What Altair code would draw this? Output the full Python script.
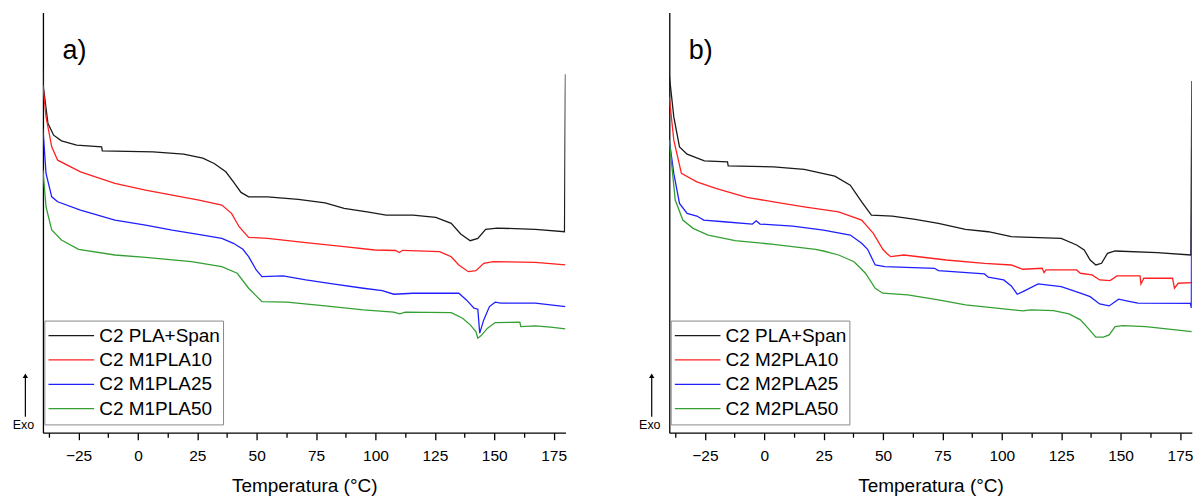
import altair as alt
import pandas as pd

# ---------------- data (y in arbitrary heat-flow units) ----------------
names_a = ["C2 PLA+Span", "C2 M1PLA10", "C2 M1PLA25", "C2 M1PLA50"]
names_b = ["C2 PLA+Span", "C2 M2PLA10", "C2 M2PLA25", "C2 M2PLA50"]
colors = ["#1a1a1a", "#ff2020", "#1f1fff", "#34a034"]

a_black_t = [-40, -39.8, -37.9, -35.5, -32.2, -25.8, -15.3, -15, 6.4, 19.2, 27.3, 32.1, 37, 40.2, 43.4, 46.6,
             54.6, 67.5, 78.8, 86.8, 96.5, 104.5, 115.8, 125.4, 131.9, 135.9, 139.9, 143.1, 146.4, 151.2, 167.3,
             179.6, 180]
a_black_v = [364.7, 346.3, 310, 298, 292.3, 288, 286.3, 282.3, 281.3, 279, 275, 269.7, 261.3, 251.3, 240.7, 236.3,
             236.3, 233.7, 230.3, 224.7, 221.3, 218, 218, 215.7, 209.7, 199, 192.3, 194.7, 203.7, 205, 203.7,
             201.3, 359]

a_red_t = [-40, -38.7, -36.3, -33.8, -24.2, -9.7, 3.2, 14.4, 25.7, 35.3, 39.4, 42.6, 46.6, 54.6, 70.7, 86.8,
           99.7, 108.5, 110, 111.5, 127, 131.9, 135.1, 139.1, 142.3, 145.6, 149.6, 167.3, 180]
a_red_v = [348, 316.3, 286.3, 273, 261.3, 249.7, 243, 238, 233, 228, 219.7, 206.3, 195.7, 194.7, 190.3, 186.3,
           183, 182.5, 180.5, 182.7, 181.3, 176.3, 168, 161.3, 162.3, 169.7, 171.3, 170.7, 168]

a_blue_t = [-40, -38.7, -36.3, -33.8, -24.2, -9.7, 3.2, 14.4, 27.3, 35.3, 40.2, 44.2, 46.6, 49.8, 52.2, 61.1,
            70.7, 82, 94.9, 102.9, 107.7, 115.8, 135.1, 138.3, 141.5, 143.1, 143.9, 145.6, 148, 150.4, 152.8,
            167.3, 180]
a_blue_v = [304.7, 259.7, 236.3, 231.3, 223, 213, 208, 203, 198, 194.7, 189.7, 183.7, 176.3, 163, 156.3, 157,
            153, 149, 144.7, 142.3, 138.7, 139.7, 139.7, 133, 124.7, 123.7, 99.7, 113, 126.3, 130.7, 129.7,
            129.7, 126.3]

a_green_t = [-40, -38.7, -36.3, -32.2, -25, -9.7, 3.2, 22.5, 35.3, 41.8, 46.6, 52.2, 62.7, 78.8, 94.9, 107.7,
             110.2, 112.6, 131.9, 136.7, 139.9, 142.3, 143.1, 144.4, 147.2, 150.4, 160.8, 161.2, 167.3, 173.7, 180]
a_green_v = [263, 226.3, 203, 193, 183.7, 178, 175.7, 171.3, 166.3, 159.7, 144.7, 131.3, 130.7, 127, 123, 120.7,
             119, 120.7, 120.3, 114.7, 108, 101.3, 94.7, 97, 104.7, 110.3, 110.7, 106.3, 107, 105.7, 104]

b_black_t = [-40, -38.1, -35.7, -32.5, -25.2, -15.5, -15.2, 3.9, 16.8, 29.7, 36.2, 41, 45.1, 53.9, 63.6, 73.3,
             84.7, 94.3, 104, 125, 131.5, 134.7, 137.2, 139.6, 142, 144.5, 147.7, 165.4, 179.6, 180]
b_black_v = [358, 316.3, 286.3, 279, 272.3, 271.3, 267.3, 266.3, 263.7, 257, 248, 231.3, 218, 217, 213.7, 209.7,
             203.7, 201.3, 196.3, 194.7, 188, 183, 173, 168, 169.7, 179.7, 182, 180.3, 178, 352.3]

b_red_t = [-40, -38.1, -34.9, -28.4, -20.4, -7.4, 3.9, 16.8, 31.3, 41, 45.9, 49.9, 51.5, 53.2, 58.8, 76.6, 92.7,
           104, 108.9, 117, 117.8, 118.6, 131.5, 133.1, 138, 141.2, 145.6, 148.5, 158.2, 158.6, 159.8, 171.9,
           172.7, 174.3, 180]
b_red_v = [336.3, 293, 259.7, 251.3, 244.7, 235.7, 231.3, 226.3, 221.3, 213, 199.7, 183.7, 179.7, 176.3, 178,
           173, 169.7, 168, 163.7, 164.7, 160.3, 163, 163, 159.7, 158, 153, 152.3, 157, 157, 149, 154.7, 154.7,
           144.7, 149.7, 150.3]

b_blue_t = [-40, -38.1, -35.7, -32.5, -28.4, -25.5, -17.1, -5, -3.4, -1.8, 12, 24.9, 36.2, 41, 43.5, 44.3, 46.7,
            50.7, 71.7, 73.3, 92.7, 94.3, 100.8, 104, 106.5, 108.9, 115.3, 125, 133.1, 137.2, 141.2, 145.2, 149.2,
            154.1, 157.3, 179.4, 179.8, 180]
b_blue_v = [293, 259.7, 229.7, 219.7, 217, 213, 211.3, 209, 212.3, 209, 207, 203, 198, 189.7, 183.7, 179.7, 168,
            166.3, 164.7, 162.3, 159, 155.7, 153, 147, 138.7, 141.3, 149, 146.3, 139.7, 136.3, 129, 127, 133.7,
            131.3, 129.7, 129.5, 125, 284]

b_green_t = [-40, -37.5, -34.3, -30, -23.6, -12.3, 3.9, 21.6, 24.9, 31.3, 37.8, 42.6, 46.7, 49.9, 60.4, 73.3,
             84.7, 100.8, 108.9, 112.1, 121.8, 128.3, 133.1, 136.3, 139.6, 142.8, 145.2, 147.7, 150.9, 160.6, 180]
b_green_v = [293, 233, 213, 204.7, 198, 192.3, 188.7, 183.7, 182, 178, 171.3, 159.7, 144.7, 139.7, 138, 133,
             128, 124, 122, 123, 122.3, 119, 113, 104.7, 95.7, 95.7, 98, 106.3, 107.3, 106.3, 101.3]

tick_values = [-37.5 + 12.5 * i for i in range(18)]

FONT = "Liberation Sans"
W, H = 523.4, 421


def frame(names, ts_list, vs_list):
    rows = []
    for name, ts, vs in zip(names, ts_list, vs_list):
        for t, v in zip(ts, vs):
            rows.append({"series": name, "T": t, "v": v})
    return pd.DataFrame(rows)


def panel(df, names, label):
    x = alt.X("T:Q",
              scale=alt.Scale(domain=[-40, 180], nice=False, zero=False),
              axis=alt.Axis(values=tick_values, title="Temperatura (°C)", grid=False,
                            labelExpr="datum.value % 25 === 0 ? datum.label : ''",
                            tickSize={"condition": {"test": "datum.value % 25 === 0", "value": 7}, "value": 4.5},
                            labelOverlap=False, labelFlush=False))
    y = alt.Y("v:Q", scale=alt.Scale(domain=[0, 421], nice=False, zero=False),
              axis=alt.Axis(title=None, labels=False, ticks=False, grid=False))
    lines = alt.Chart(df).mark_line(strokeWidth=1.3, clip=True).encode(
        x=x, y=y,
        color=alt.Color("series:N", sort=names,
                        scale=alt.Scale(domain=names, range=colors),
                        legend=alt.Legend(title=None, orient="none", legendX=1.4, legendY=308.7,
                                          symbolType="stroke", symbolSize=2090, symbolStrokeWidth=1.3,
                                          labelFont=FONT, labelFontSize=19, labelColor="black",
                                          labelOffset=4, clipHeight=24, rowPadding=0.4, padding=3,
                                          strokeColor="#8a8a8a", fillColor="white")),
    )
    lab = alt.Chart(pd.DataFrame({"t": [label]})).mark_text(
        font=FONT, fontSize=27, align="left", baseline="alphabetic", color="black"
    ).encode(text="t:N", x=alt.value(19.5), y=alt.value(47))
    exo = alt.Chart(pd.DataFrame({"t": ["Exo"]})).mark_text(
        font=FONT, fontSize=12.5, align="center", baseline="middle", color="black"
    ).encode(text="t:N", x=alt.value(-19.5), y=alt.value(413))
    shaft = alt.Chart(pd.DataFrame({"t": [0]})).mark_rule(color="black", strokeWidth=1.2).encode(
        x=alt.value(-17.6), y=alt.value(364), y2=alt.value(405))
    head = alt.Chart(pd.DataFrame({"t": [0]})).mark_point(
        shape="triangle-up", filled=True, color="black", size=28, opacity=1
    ).encode(x=alt.value(-17.6), y=alt.value(364))
    return alt.layer(lines, lab, exo, shaft, head).properties(width=W, height=H)


df_a = frame(names_a, [a_black_t, a_red_t, a_blue_t, a_green_t], [a_black_v, a_red_v, a_blue_v, a_green_v])
df_b = frame(names_b, [b_black_t, b_red_t, b_blue_t, b_green_t], [b_black_v, b_red_v, b_blue_v, b_green_v])

chart = alt.hconcat(panel(df_a, names_a, "a)"), panel(df_b, names_b, "b)"),
                    spacing=103.4, bounds="flush").resolve_scale(color="independent").configure_view(
    strokeWidth=0
).configure_axis(
    domainColor="black", domainWidth=1.3, tickColor="black", tickWidth=1.3,
    labelFont=FONT, labelFontSize=15.5, labelColor="black", labelPadding=9,
    titleFont=FONT, titleFontSize=19, titleFontWeight="normal", titleColor="black", titlePadding=12
).properties(
    padding={"left": 4, "top": 4, "right": 2, "bottom": 0}, background="white"
)

chart.save("out.html", embed_options={"renderer": "svg", "actions": False})
